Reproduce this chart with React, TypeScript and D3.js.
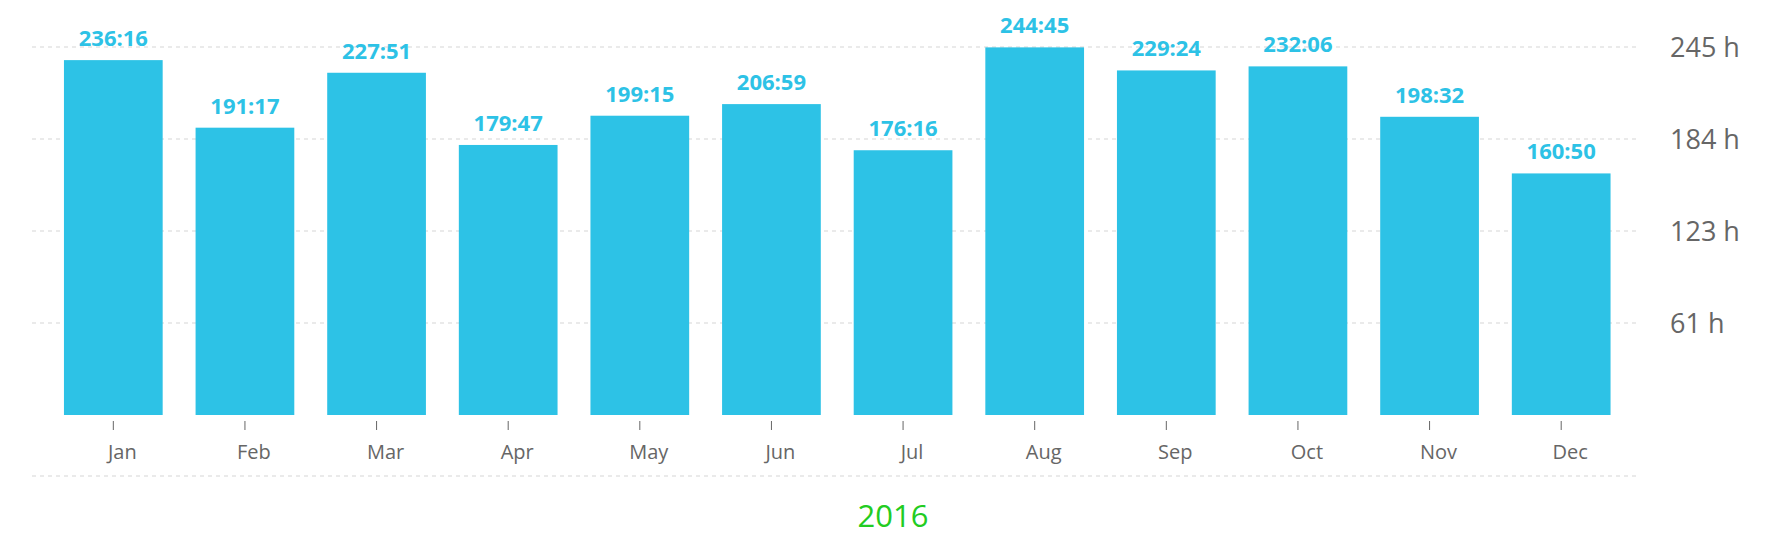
import * as d3 from 'd3';

const months = ['Jan', 'Feb', 'Mar', 'Apr', 'May', 'Jun', 'Jul', 'Aug', 'Sep', 'Oct', 'Nov', 'Dec'];
const durations = ['236:16', '191:17', '227:51', '179:47', '199:15', '206:59', '176:16', '244:45', '229:24', '232:06', '198:32', '160:50'];
const yTicks = [61.25, 122.5, 183.75, 245];
const yearLabel = '2016';

const toHours = (s: string) => {
    const [h, m] = s.split(':').map(Number);
    return h + m / 60;
};

const W = 1778;
const H = 543;
const blue = '#2dc2e6';
const grey = '#666';

export default function App() {
    const x = d3.scaleBand<string>().domain(months).range([47.5, 1627]).paddingInner(0.25).paddingOuter(0.125);
    const y = d3.scaleLinear().domain([0, 245]).range([415, 47]);

    return (
        <svg width={W} height={H} style={{ position: 'absolute', left: 0, top: 0, fontFamily: '"Open Sans", sans-serif' }}>
            {/* grid */}
            {yTicks.map(t => (
                <g key={t}>
                    <line x1={32} x2={1638} y1={y(t)} y2={y(t)} stroke="#e3e3e3" strokeWidth={1.5} strokeDasharray="4 4" />
                    <text x={1670} y={y(t) + 10} fontSize={27} fill={grey}>{`${Math.round(t)} h`}</text>
                </g>
            ))}
            <line x1={32} x2={1638} y1={476} y2={476} stroke="#e3e3e3" strokeWidth={1.5} strokeDasharray="4 4" />

            {/* bars */}
            {months.map((m, i) => {
                const v = toHours(durations[i]);
                const bx = x(m)!;
                const cx = bx + x.bandwidth() / 2;
                return (
                    <g key={m}>
                        <rect x={bx} y={y(v)} width={x.bandwidth()} height={y(0) - y(v)} fill={blue} />
                        <text x={cx} y={y(v) - 14} textAnchor="middle" fontSize={22} fontWeight="bold" fill={blue}>{durations[i]}</text>
                        <line x1={cx} x2={cx} y1={421} y2={430} stroke={grey} strokeWidth={1} />
                        <text x={cx + 9} y={459} textAnchor="middle" fontSize={20} fill={grey}>{m}</text>
                    </g>
                );
            })}

            <text x={893} y={527} textAnchor="middle" fontSize={31} fill="#22cc22">{yearLabel}</text>
        </svg>
    );
}
